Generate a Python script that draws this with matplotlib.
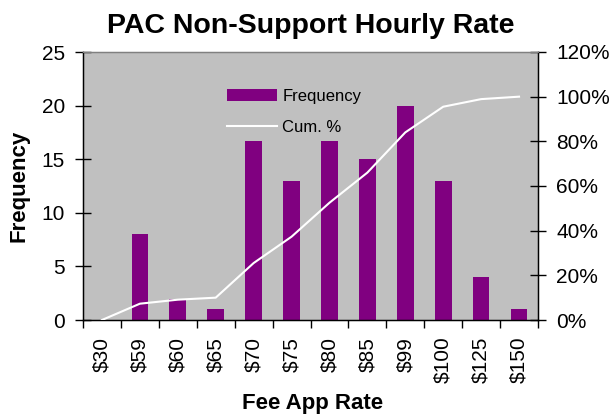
import matplotlib
matplotlib.use("Agg")
import matplotlib.pyplot as plt
from matplotlib.ticker import FuncFormatter

plt.rcParams['font.family'] = ['Liberation Sans', 'DejaVu Sans']

rates = ['$30', '$59', '$60', '$65', '$70', '$75', '$80', '$85', '$99',
         '$100', '$125', '$150']
frequency = [0, 8, 2, 1, 16.7, 13, 16.7, 15, 20, 13, 4, 1]
cum_pct = [0, 7.3, 9.1, 10, 25.5, 37.3, 52.5, 66, 84, 95.5, 98.9, 100]

fig = plt.figure(figsize=(6.13, 4.2), dpi=100)
ax = fig.add_axes([83 / 613, 1 - 320 / 420, (538 - 83) / 613, (320 - 52) / 420])
ax.set_facecolor('#c0c0c0')

x = range(len(rates))
bars = ax.bar(x, frequency, width=0.44, color='#800080', label='Frequency', zorder=2)
ax.set_xlim(-0.5, len(rates) - 0.5)
ax.set_ylim(0, 25)
ax.set_yticks(range(0, 26, 5))
ax.set_xticks(x)
ax.set_xticklabels(rates, rotation=90, fontsize=15)
ax.set_xticks([i + 0.5 for i in range(-1, len(rates))], minor=True)
ax.tick_params(axis='x', which='major', length=0, pad=12)
ax.tick_params(axis='x', which='minor', length=6, direction='out', width=1)
ax.tick_params(axis='y', direction='inout', length=12, width=1, labelsize=15, pad=7)
for s in ax.spines.values():
    s.set_linewidth(1)
ax.spines['top'].set_color('#808080')

ax2 = ax.twinx()
line, = ax2.plot(x, cum_pct, color='white', lw=1.5, label='Cum. %', zorder=3)
ax2.set_ylim(0, 120)
ax2.set_yticks(range(0, 121, 20))
ax2.yaxis.set_major_formatter(FuncFormatter(lambda v, p: '%d%%' % v))
ax2.tick_params(axis='y', direction='inout', length=12, width=1, labelsize=15, pad=7)
ax2.spines['top'].set_color('#808080')

ax.set_title('PAC Non-Support Hourly Rate', fontsize=20.5, fontweight='bold', pad=14)
ax.set_xlabel('Fee App Rate', fontsize=16, fontweight='bold')
ax.set_ylabel('Frequency', fontsize=16, fontweight='bold')
ax.xaxis.set_label_coords(0.504, -0.272)
ax.yaxis.set_label_coords(-0.118, 0.5)

ax2.legend([bars, line], ['Frequency', 'Cum. %'], loc='upper left',
           bbox_to_anchor=(0.317, 0.862), frameon=False, fontsize=12,
           borderpad=0, borderaxespad=0,
           handlelength=3.0, labelspacing=0.95, handletextpad=0.3)

fig.savefig('out.png', dpi=100)
